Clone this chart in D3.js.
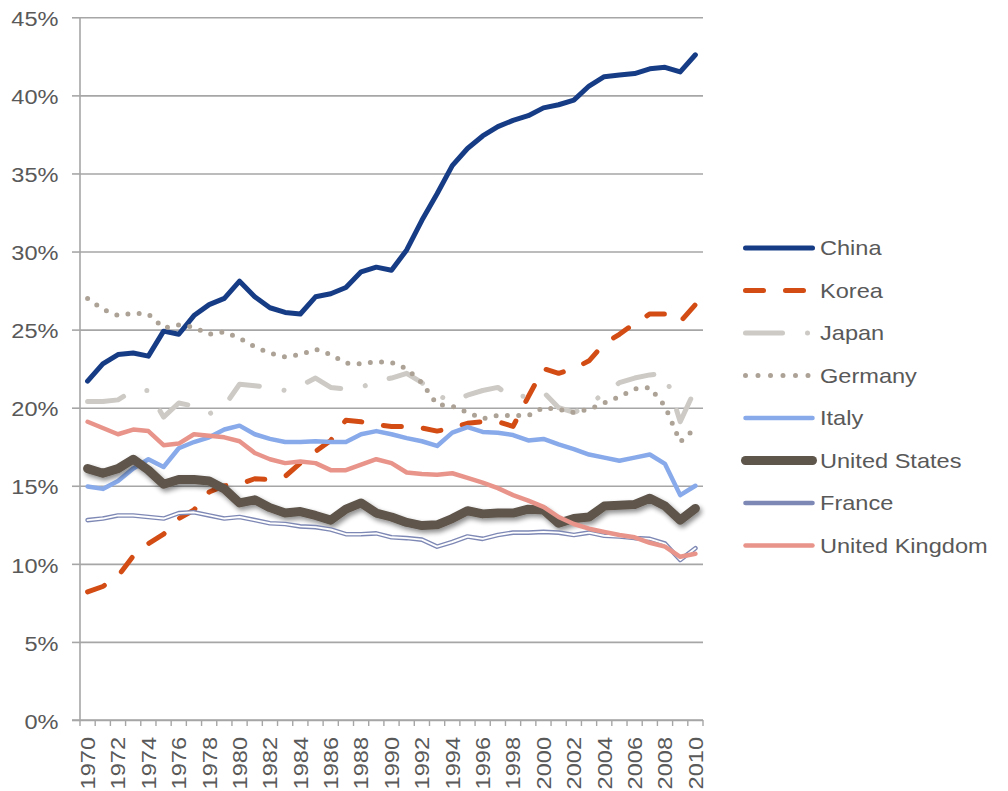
<!DOCTYPE html>
<html>
<head>
<meta charset="utf-8">
<script src="https://cdn.jsdelivr.net/npm/d3@7"></script>
<style>
  html, body { margin: 0; padding: 0; background: #ffffff; }
  svg { display: block; }
  text { font-family: "Liberation Sans", Arial, Helvetica, sans-serif; }
</style>
</head>
<body>
<svg id="chart" width="1008" height="791"></svg>
<script>
// ---- Data: share of value added, 1970-2010 (%) ----
const years = [1970, 1971, 1972, 1973, 1974, 1975, 1976, 1977, 1978, 1979,
               1980, 1981, 1982, 1983, 1984, 1985, 1986, 1987, 1988, 1989,
               1990, 1991, 1992, 1993, 1994, 1995, 1996, 1997, 1998, 1999,
               2000, 2001, 2002, 2003, 2004, 2005, 2006, 2007, 2008, 2009, 2010];

const china   = [21.7, 22.8, 23.4, 23.5, 23.3, 24.9, 24.7, 25.9, 26.6, 27.0,
                 28.1, 27.1, 26.4, 26.1, 26.0, 27.1, 27.3, 27.7, 28.7, 29.0,
                 28.8, 30.1, 32.0, 33.7, 35.5, 36.6, 37.4, 38.0, 38.4, 38.7,
                 39.2, 39.4, 39.7, 40.6, 41.2, 41.3, 41.4, 41.7, 41.8, 41.5, 42.6];
const korea   = [8.2, 8.55, 9.2, 10.5, 11.3, 11.9, 12.9, 13.45, 14.6, 15.0,
                 15.1, 15.45, 15.4, 15.6, 16.45, 17.2, 17.9, 19.2, 19.1, 18.9,
                 18.8, 18.8, 18.7, 18.5, 18.7, 19.0, 19.1, 19.1, 18.8, 20.7,
                 22.5, 22.2, 22.5, 23.0, 24.1, 24.7, 25.4, 26.0, 26.0, 25.5, 26.6];
const japan   = [20.4, 20.4, 20.5, 21.1, 21.1, 19.4, 20.3, 20.1, 19.6, 20.1,
                 21.5, 21.4, 21.3, 21.1, 21.4, 21.9, 21.3, 21.2, 21.3, 21.7,
                 21.9, 22.2, 21.6, 20.8, 20.4, 20.8, 21.1, 21.3, 20.6, 20.8,
                 21.0, 20.0, 19.7, 20.1, 21.0, 21.6, 21.9, 22.1, 22.2, 19.1, 21.2];
const germany = [27.0, 26.3, 25.9, 26.05, 26.0, 25.1, 25.3, 25.15, 24.7, 24.85,
                 24.45, 23.9, 23.5, 23.25, 23.4, 23.75, 23.4, 22.85, 22.8, 22.95,
                 22.9, 22.5, 21.6, 20.2, 20.1, 19.7, 19.3, 19.5, 19.5, 19.5,
                 20.0, 19.9, 19.7, 19.9, 20.3, 20.7, 21.2, 21.3, 20.1, 17.8, 18.7];
const italy   = [14.95, 14.8, 15.3, 16.1, 16.7, 16.2, 17.4, 17.8, 18.1, 18.6,
                 18.85, 18.3, 18.0, 17.8, 17.8, 17.85, 17.8, 17.8, 18.3, 18.5,
                 18.3, 18.05, 17.85, 17.55, 18.4, 18.75, 18.45, 18.4, 18.25, 17.9,
                 18.0, 17.65, 17.35, 17.0, 16.8, 16.6, 16.8, 17.0, 16.4, 14.4, 15.0];
const unitedStates = [16.1, 15.8, 16.1, 16.7, 16.0, 15.1, 15.4, 15.4, 15.3, 14.8,
                 13.9, 14.1, 13.6, 13.25, 13.35, 13.1, 12.8, 13.5, 13.9, 13.25,
                 13.0, 12.65, 12.45, 12.5, 12.9, 13.4, 13.2, 13.25, 13.25, 13.5,
                 13.45, 12.6, 12.9, 13.0, 13.7, 13.75, 13.8, 14.2, 13.7, 12.8, 13.55];
const france  = [12.8, 12.9, 13.1, 13.1, 13.0, 12.9, 13.25, 13.3, 13.1, 12.9,
                 13.0, 12.8, 12.6, 12.55, 12.4, 12.35, 12.2, 11.9, 11.9, 11.95,
                 11.7, 11.65, 11.55, 11.1, 11.4, 11.75, 11.6, 11.85, 12.0, 12.0,
                 12.05, 12.0, 11.85, 12.0, 11.8, 11.75, 11.65, 11.6, 11.3, 10.25, 11.0];
const unitedKingdom = [19.1, 18.7, 18.3, 18.6, 18.5, 17.6, 17.7, 18.3, 18.2, 18.1,
                 17.85, 17.1, 16.7, 16.45, 16.55, 16.45, 16.0, 16.0, 16.35, 16.7,
                 16.45, 15.85, 15.75, 15.7, 15.8, 15.5, 15.2, 14.85, 14.4, 14.05,
                 13.65, 13.0, 12.55, 12.25, 12.05, 11.85, 11.7, 11.35, 11.1, 10.45, 10.65];

const seriesNames = ["China", "Korea", "Japan", "Germany", "Italy",
                     "United States", "France", "United Kingdom"];
const yTickValues = [0, 5, 10, 15, 20, 25, 30, 35, 40, 45];
const xTickLabels = [1970, 1972, 1974, 1976, 1978, 1980, 1982, 1984, 1986, 1988,
                     1990, 1992, 1994, 1996, 1998, 2000, 2002, 2004, 2006, 2008, 2010];

// ---- Line styles per series ----
const styles = {
  "China":          { color: "#173C86", width: 5,   dash: null,           cap: "round" },
  "Korea":          { color: "#D24C14", width: 5,   dash: [18, 22],       cap: "round" },
  "Japan":          { color: "#CDCAC5", width: 5,   dash: [37, 25, 0.01, 25], cap: "round" },
  "Germany":        { color: "#ADA296", width: 5,   dash: [0, 11.3],      cap: "round" },
  "Italy":          { color: "#88AAEA", width: 4.5, dash: null,           cap: "round" },
  "United States":  { color: "#5E554B", width: 9,   dash: null,           cap: "round", shadow: true },
  "France":         { color: "#7E88B4", width: 4.6, dash: null,           cap: "round", hollow: true },
  "United Kingdom": { color: "#E9948A", width: 4.5, dash: null,           cap: "round" }
};
const seriesValues = [china, korea, japan, germany, italy, unitedStates, france, unitedKingdom];

const TEXT_COLOR = "#595959";
const GRID_COLOR = "#A6A6A6";
const FONT_SIZE = 20.5;
const STRETCH = 1.15;

const svg = d3.select("#chart");

// Drop shadow for the United States line
const defs = svg.append("defs");
const f = defs.append("filter").attr("id", "lineShadow")
  .attr("filterUnits", "userSpaceOnUse")
  .attr("x", 0).attr("y", 0).attr("width", 1008).attr("height", 791);
f.append("feGaussianBlur").attr("in", "SourceAlpha").attr("stdDeviation", 2.6).attr("result", "b");
f.append("feOffset").attr("in", "b").attr("dx", 2).attr("dy", 3).attr("result", "o");
f.append("feComponentTransfer").attr("in", "o").attr("result", "s")
  .append("feFuncA").attr("type", "linear").attr("slope", 0.45);
const fm = f.append("feMerge");
fm.append("feMergeNode").attr("in", "s");
fm.append("feMergeNode").attr("in", "SourceGraphic");

// ---- Scales ----
const plotLeft = 80, plotRight = 703, plotTop = 17.3, plotBottom = 720;
const x = d3.scaleBand().domain(years).range([plotLeft, plotRight]).padding(0);
const y = d3.scaleLinear().domain([0, 45]).range([plotBottom, plotTop]);
const cx = d => x(d) + x.bandwidth() / 2;

// ---- Horizontal gridlines ----
const grid = svg.append("g").attr("transform", `translate(${plotLeft},0)`)
  .call(d3.axisLeft(y).tickValues(yTickValues).tickSize(-(plotRight - plotLeft)).tickFormat(""));
grid.select(".domain").remove();
grid.selectAll("line").attr("stroke", GRID_COLOR).attr("stroke-width", 1.6);

// ---- Y axis ----
const yAxis = svg.append("g").attr("transform", `translate(${plotLeft},0)`)
  .call(d3.axisLeft(y).tickValues(yTickValues).tickSize(8).tickFormat(d => d + "%"));
yAxis.select(".domain").attr("stroke", GRID_COLOR).attr("stroke-width", 1.6)
  .attr("d", `M0,${plotTop}V${plotBottom}`);
yAxis.selectAll(".tick line").attr("stroke", GRID_COLOR).attr("stroke-width", 1.6);
yAxis.selectAll(".tick text")
  .attr("x", 0).attr("dy", "0.4em")
  .attr("transform", `translate(-21.5,0) scale(${STRETCH},1)`)
  .attr("fill", TEXT_COLOR).attr("font-size", FONT_SIZE)
  .attr("font-family", "'Liberation Sans', Arial, sans-serif")
  .attr("text-anchor", "end");

// ---- X axis: line, category boundary ticks, rotated year labels ----
const xAxis = svg.append("g").attr("transform", `translate(0,${plotBottom})`)
  .call(d3.axisBottom(x).tickValues(xTickLabels).tickSize(0).tickPadding(0));
xAxis.select(".domain").attr("stroke", GRID_COLOR).attr("stroke-width", 1.6)
  .attr("d", `M${plotLeft - 8},0H${plotRight}`);
xAxis.selectAll(".tick line").remove();
xAxis.selectAll(".tick text")
  .attr("y", 0).attr("x", 0).attr("dy", "0.36em")
  .attr("transform", `translate(0,17) rotate(-90) scale(${STRETCH},1)`)
  .attr("text-anchor", "end")
  .attr("fill", TEXT_COLOR).attr("font-size", FONT_SIZE)
  .attr("font-family", "'Liberation Sans', Arial, sans-serif");

const boundaries = years.map(d => x(d)).concat([x.range()[1]]);
svg.append("g").selectAll("line").data(boundaries).join("line")
  .attr("x1", d => d).attr("x2", d => d)
  .attr("y1", plotBottom).attr("y2", plotBottom + 6)
  .attr("stroke", GRID_COLOR).attr("stroke-width", 1.4);

// ---- Series lines ----
const line = d3.line().x((d, i) => cx(years[i])).y(d => y(d)).curve(d3.curveLinear);
const linesG = svg.append("g");
seriesNames.forEach((name, k) => {
  const s = styles[name];
  const p = linesG.append("path")
    .datum(seriesValues[k])
    .attr("d", line)
    .attr("fill", "none")
    .attr("stroke", s.color)
    .attr("stroke-width", s.width)
    .attr("stroke-linejoin", "round")
    .attr("stroke-linecap", s.cap);
  if (s.dash) p.attr("stroke-dasharray", s.dash.join(","));
  if (s.shadow) p.attr("filter", "url(#lineShadow)");
  if (s.hollow) {
    linesG.append("path")
      .datum(seriesValues[k])
      .attr("d", line)
      .attr("fill", "none")
      .attr("stroke", "#ffffff")
      .attr("stroke-width", 1.9)
      .attr("stroke-linejoin", "round")
      .attr("stroke-linecap", "round");
  }
});

// ---- Legend ----
const legendTop = 248, legendStep = 42.5;
const legend = svg.append("g");
seriesNames.forEach((name, i) => {
  const s = styles[name];
  const ly = legendTop + i * legendStep;
  let x1 = 745.5, x2 = 812.5;
  if (name === "Germany") { x2 = 809; }
  const seg = legend.append("line")
    .attr("x1", x1).attr("x2", x2).attr("y1", ly).attr("y2", ly)
    .attr("stroke", s.color)
    .attr("stroke-width", s.width)
    .attr("stroke-linecap", "round");
  if (s.dash) seg.attr("stroke-dasharray", name === "Germany" ? "0,12.5" : s.dash.join(","));
  legend.append("text")
    .attr("transform", `translate(820,${ly}) scale(${STRETCH},1)`)
    .attr("dy", "0.36em")
    .attr("fill", TEXT_COLOR)
    .attr("font-size", FONT_SIZE)
    .text(name);
});
</script>
</body>
</html>
